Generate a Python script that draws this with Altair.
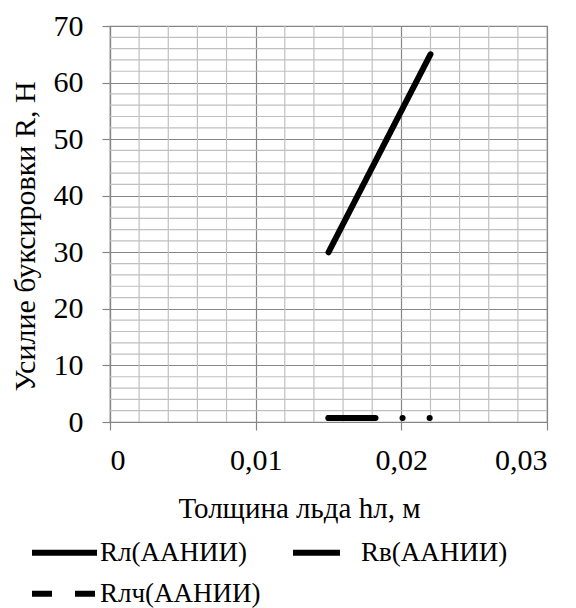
import altair as alt
import pandas as pd

FONT = "Times New Roman, Liberation Serif, DejaVu Serif, serif"
MAJOR = "#868686"
MINOR = "#c0c0c0"

series_names = ["Rл(ААНИИ)", "Rв(ААНИИ)", "Rлч(ААНИИ)"]
dash_by_series = {
    "Rл(ААНИИ)": [1, 0],
    "Rв(ААНИИ)": [47, 27, 0.1, 27, 0.1, 300],
    "Rлч(ААНИИ)": [20, 23],
}

rl_x = [0.015, 0.016, 0.017, 0.018, 0.019, 0.020, 0.021, 0.022]
rl_y = [30, 35, 40, 45, 50, 55, 60, 65]

rv_x = [0.015, 0.016, 0.017, 0.018, 0.019, 0.020, 0.021, 0.022]
rv_y = [0.7, 0.7, 0.7, 0.7, 0.7, 0.7, 0.7, 0.7]

rlch_x = [0.015, 0.016, 0.017]
rlch_y = [0.7, 0.7, 0.7]

x_ticks = [0, 0.01, 0.02, 0.03]
y_ticks = [0, 10, 20, 30, 40, 50, 60, 70]
x_minor = [0.002, 0.004, 0.006, 0.008, 0.012, 0.014, 0.016, 0.018,
           0.022, 0.024, 0.026, 0.028]
y_minor = [2, 4, 6, 8, 12, 14, 16, 18, 22, 24, 26, 28, 32, 34, 36, 38,
           42, 44, 46, 48, 52, 54, 56, 58, 62, 64, 66, 68]


def frame(name, xs, ys):
    return pd.DataFrame({"series": name, "x": xs, "y": ys,
                         "i": list(range(len(xs)))})


df_main = pd.concat([frame(series_names[0], rl_x, rl_y),
                     frame(series_names[1], rv_x, rv_y)], ignore_index=True)
df_rlch = frame(series_names[2], rlch_x, rlch_y)

xscale = alt.Scale(domain=[0, 0.03], nice=False, zero=False)
yscale = alt.Scale(domain=[0, 70], nice=False, zero=False)

xaxis = alt.Axis(
    values=x_ticks, title="Толщина льда hл, м",
    labelExpr="datum.value == 0 ? '0' : replace(format(datum.value, '.2f'), '.', ',')",
    grid=True, gridColor=MAJOR, gridWidth=1.2,
    tickSize=8, labelPadding=15, labelAngle=0,
    labelFont=FONT, titleFont=FONT, titleFontSize=29,
    titleX=189, titleY=95, titleBaseline="alphabetic", titleAlign="center",
)
yaxis = alt.Axis(
    values=y_ticks, title="Усилие буксировки R, Н",
    grid=True, gridColor=MAJOR, gridWidth=1.2,
    tickSize=8, labelPadding=19,
    labelFont=FONT, titleFont=FONT, titleFontSize=30,
    titleX=-85, titleY=210, titleBaseline="middle", titleAlign="center",
    titleAngle=-90,
)


def legend(y, col_pad):
    return alt.Legend(
        title=None, orient="none", legendX=-81, legendY=y,
        columns=2, symbolType="stroke", symbolSize=4225,
        symbolStrokeWidth=6, symbolStrokeColor="black",
        labelFont=FONT, labelFontSize=27, labelColor="black",
        labelOffset=0, columnPadding=col_pad, labelLimit=300,
    )


vgrid = alt.Chart(pd.DataFrame({"x": x_minor})).mark_rule(
    color=MINOR, strokeWidth=1.2
).encode(x=alt.X("x:Q", scale=xscale, axis=xaxis))

hgrid = alt.Chart(pd.DataFrame({"y": y_minor})).mark_rule(
    color=MINOR, strokeWidth=1.2
).encode(y=alt.Y("y:Q", scale=yscale, axis=yaxis))

line_mark = dict(color="black", strokeWidth=6, strokeCap="round",
                 strokeJoin="round")

main_names = series_names[:2]
lines_main = alt.Chart(df_main).mark_line(**line_mark).encode(
    x=alt.X("x:Q", scale=xscale, axis=xaxis),
    y=alt.Y("y:Q", scale=yscale, axis=yaxis),
    strokeDash=alt.StrokeDash("series:N", sort=main_names, scale=alt.Scale(
        domain=main_names, range=[dash_by_series[s] for s in main_names],
    ), legend=legend(491, 34)),
    detail="series:N",
    order="i:Q",
)

rlch_names = series_names[2:]
lines_rlch = alt.Chart(df_rlch).mark_line(**line_mark).encode(
    x=alt.X("x:Q", scale=xscale, axis=xaxis),
    y=alt.Y("y:Q", scale=yscale, axis=yaxis),
    strokeDash=alt.StrokeDash("series:N", scale=alt.Scale(
        domain=rlch_names, range=[dash_by_series[s] for s in rlch_names],
    ), legend=legend(532, 34)),
    order="i:Q",
)

chart = alt.layer(vgrid, hgrid, lines_main, lines_rlch).resolve_scale(
    strokeDash="independent"
).properties(
    width=437, height=396,
    autosize=alt.AutoSizeParams(type="none"),
    padding={"left": 102, "top": 18, "right": 13, "bottom": 186},
).configure(font=FONT).configure_axis(
    labelFont=FONT, labelFontSize=30, labelColor="black",
    titleFont=FONT, titleColor="black", titleFontWeight="normal",
    domainColor=MAJOR, domainWidth=1.2, tickColor=MAJOR, tickWidth=1.2,
).configure_view(
    stroke=MAJOR, strokeWidth=1.2
)

chart.save("out.html", embed_options={"renderer": "svg", "actions": False})
